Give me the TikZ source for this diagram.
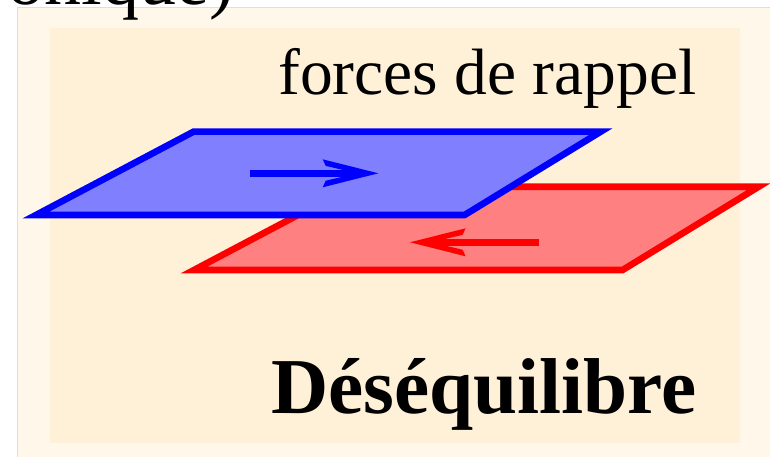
\documentclass[tikz,border=0pt]{standalone}
\usepackage{fontspec}
\setmainfont{Liberation Serif}
\usetikzlibrary{arrows.meta}
\definecolor{outerbg}{HTML}{FFF7EA}
\definecolor{innerbg}{HTML}{FFF1D8}
\definecolor{panelline}{HTML}{F8DDA6}
\definecolor{bluefill}{HTML}{8080FF}
\definecolor{redfill}{HTML}{FF8080}
\pgfdeclarearrow{
  name=PBarb,
  setup code={
    \pgfarrowssettipend{0pt}
    \pgfarrowssetlineend{-34pt}
    \pgfarrowssetbackend{-56pt}
    \pgfarrowssetvisualbackend{-34pt}
    \pgfarrowshullpoint{0pt}{0pt}
    \pgfarrowshullpoint{-56pt}{14pt}
    \pgfarrowshullpoint{-56pt}{-14pt}
  },
  drawing code={
    \pgfpathmoveto{\pgfpoint{0pt}{0pt}}
    \pgfpathlineto{\pgfpoint{-55.6pt}{14pt}}
    \pgfpathlineto{\pgfpoint{-52.6pt}{7.4pt}}
    \pgfpathlineto{\pgfpoint{-35pt}{3.3pt}}
    \pgfpathlineto{\pgfpoint{-35pt}{-3.3pt}}
    \pgfpathlineto{\pgfpoint{-52.6pt}{-7.4pt}}
    \pgfpathlineto{\pgfpoint{-55.6pt}{-14pt}}
    \pgfpathclose
    \pgfusepathqfill
  },
}
\begin{document}
\begin{tikzpicture}[x=1pt,y=-1pt,
  plate/.style={line width=6.6pt, line join=miter},
  force/.style={line width=6.6pt, -{PBarb}},
  txt/.style={inner sep=0pt}]
\useasboundingbox (0,0) rectangle (770,457);
\clip (0,0) rectangle (770,457);
% panels
\draw[panelline, line width=1pt, fill=outerbg] (17.5,7.5) rectangle (800,490);
\fill[innerbg] (50,28) rectangle (740,443);
% title fragment
\node[txt, anchor=base east] (title) at (234,5) {\fontsize{74}{80}\selectfont onique)};
% label
\node[txt, anchor=base west] (forces) at (278,95) {\fontsize{65.5}{72}\selectfont forces de rappel};
\node[txt, anchor=base west] (deseq) at (271,413) {\fontsize{79.2}{86}\selectfont\bfseries Déséquilibre};
% red plate
\coordinate (r1) at (194,270);
\coordinate (r2) at (351.5,186.7);
\coordinate (r3) at (758.7,186.7);
\coordinate (r4) at (622.6,270);
\draw[plate, red, fill=redfill] (r1) -- (r2) -- (r3) -- (r4) -- cycle;
\coordinate (ra1) at (539,242.3);
\coordinate (ra2) at (410,242.3);
\draw[force, red] (ra1) -- (ra2);
% blue plate
\coordinate (b1) at (36,215);
\coordinate (b2) at (193.5,131.7);
\coordinate (b3) at (600.7,131.7);
\coordinate (b4) at (464.6,215);
\draw[plate, blue, fill=bluefill] (b1) -- (b2) -- (b3) -- (b4) -- cycle;
\coordinate (ba1) at (250,173.3);
\coordinate (ba2) at (378.3,173.3);
\draw[force, blue] (ba1) -- (ba2);
\end{tikzpicture}
\end{document}
